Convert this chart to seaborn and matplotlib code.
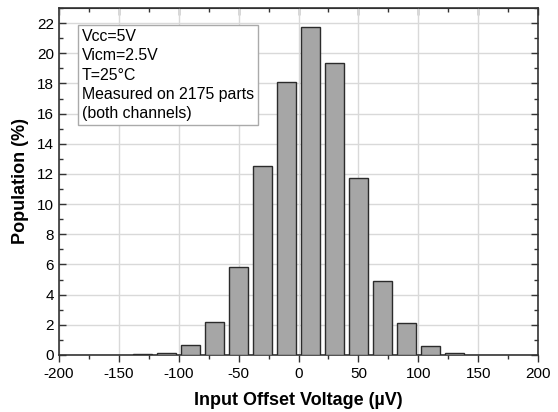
import numpy as np
import pandas as pd
import matplotlib
matplotlib.use('Agg')
import matplotlib.pyplot as plt
import seaborn as sns
from matplotlib.ticker import MultipleLocator

# histogram bins (centre, uV) and population (%)
bin_centers = [-130, -110, -90, -70, -50, -30, -10, 10, 30, 50, 70, 90, 110, 130]
population = [0.05, 0.1, 0.65, 2.2, 5.85, 12.5, 18.1, 21.75, 19.35, 11.7, 4.9, 2.15, 0.6, 0.15]
x_ticks = [-200, -150, -100, -50, 0, 50, 100, 150, 200]
y_ticks = [0, 2, 4, 6, 8, 10, 12, 14, 16, 18, 20, 22]
note = "Vcc=5V\nVicm=2.5V\nT=25°C\nMeasured on 2175 parts\n(both channels)"

df = pd.DataFrame({'vos': bin_centers, 'pop': population})

sns.set_style('white')
plt.rcParams['font.family'] = ['Liberation Sans', 'DejaVu Sans']
plt.rcParams['axes.unicode_minus'] = False
plt.rcParams['text.color'] = 'black'
plt.rcParams['axes.labelcolor'] = 'black'

fig = plt.figure(figsize=(5.58, 4.12), dpi=100)
ax = fig.add_axes([59 / 558, 1 - 355 / 412, (538 - 59) / 558, (355 - 8) / 412])

sns.barplot(data=df, x='vos', y='pop', native_scale=True, width=0.8,
            color='#a6a6a6', saturation=1, edgecolor='#2b2b2b', linewidth=1,
            ax=ax, zorder=3)

ax.set_xlim(-200, 200)
ax.set_ylim(0, 23)
ax.set_xticks(x_ticks)
ax.set_yticks(y_ticks)
ax.xaxis.set_minor_locator(MultipleLocator(25))
ax.yaxis.set_minor_locator(MultipleLocator(1))
ax.grid(True, which='major', color='#d9d9d9', linewidth=1, zorder=0)
ax.set_axisbelow(True)

for s in ax.spines.values():
    s.set_color('#333333')
    s.set_linewidth(1.2)

ax.tick_params(axis='x', which='both', direction='out', top=False, bottom=True,
               labelsize=11, colors='#333333', labelcolor='black')
ax.tick_params(axis='y', which='both', direction='in', left=True, right=True,
               labelsize=11, colors='#333333', labelcolor='black')
ax.tick_params(which='major', length=5, width=1)
ax.tick_params(which='minor', length=3, width=1)

# top ticks pointing in
sec = ax.secondary_xaxis('top')
sec.set_xticks(x_ticks)
sec.xaxis.set_minor_locator(MultipleLocator(25))
sec.tick_params(which='both', direction='in', labeltop=False, colors='#333333')
sec.tick_params(which='major', length=5, width=1)
sec.tick_params(which='minor', length=3, width=1)

ax.set_xlabel('Input Offset Voltage (µV)', fontsize=13, fontweight='bold', labelpad=8)
ax.set_ylabel('Population (%)', fontsize=13, fontweight='bold', labelpad=6)

ax.text(-181, 21.6, note, fontsize=11.4, va='top', ha='left', linespacing=1.36, zorder=5,
        bbox=dict(boxstyle='square,pad=0.25', facecolor='white', edgecolor='#aaaaaa', linewidth=1))

fig.savefig('out.png', dpi=100)
